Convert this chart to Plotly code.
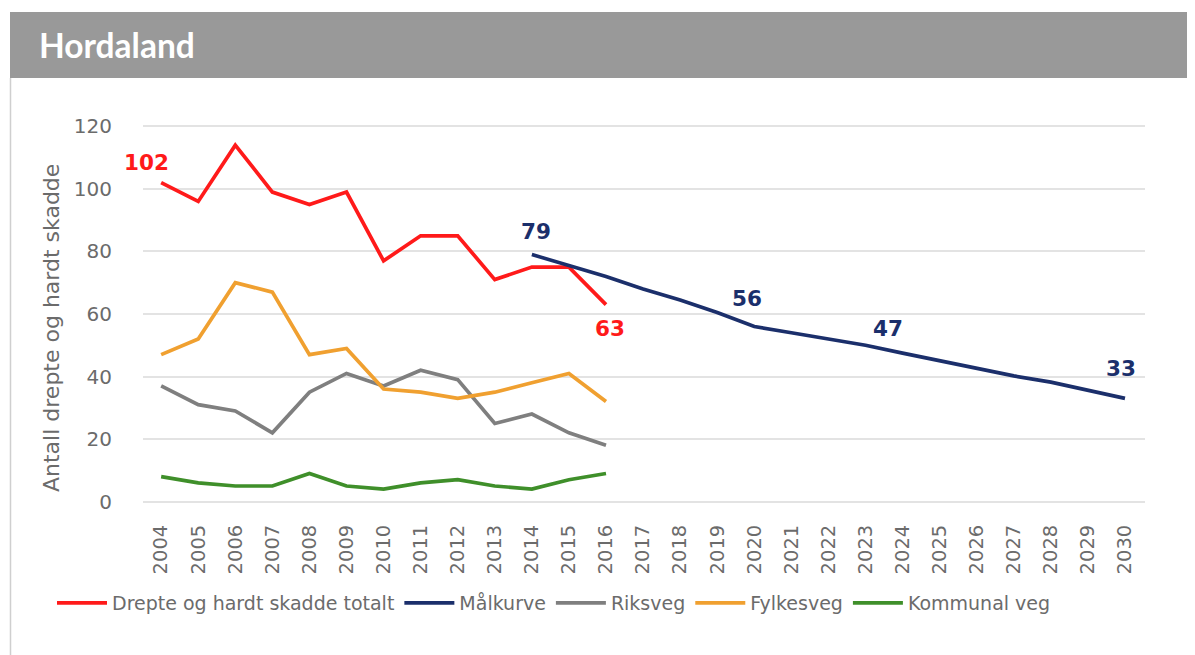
import plotly.graph_objects as go

years_hist = list(range(2004, 2017))
years_goal = list(range(2014, 2031))
all_years = list(range(2004, 2031))

totalt = [102, 96, 114, 99, 95, 99, 77, 85, 85, 71, 75, 75, 63]
malkurve = [79, 75.5, 72, 68, 64.5, 60.5, 56, 54, 52, 50, 47.5, 45, 42.5, 40.2, 38.2, 35.7, 33]
riksveg = [37, 31, 29, 22, 35, 41, 37, 42, 39, 25, 28, 22, 18]
fylkesveg = [47, 52, 70, 67, 47, 49, 36, 35, 33, 35, 38, 41, 32]
kommunal = [8, 6, 5, 5, 9, 5, 4, 6, 7, 5, 4, 7, 9]

names = ["Drepte og hardt skadde totalt", "Målkurve", "Riksveg", "Fylkesveg", "Kommunal veg"]
colors = ["#ff1a1a", "#1b2f6b", "#7f7f7f", "#f0a030", "#3f8f2a"]

# value labels: (x, y, text, color)
labels = [
    (2003.6, 108.5, "102", colors[0]),
    (2016.1, 55.5, "63", colors[0]),
    (2014.1, 86.5, "79", colors[1]),
    (2019.8, 65, "56", colors[1]),
    (2023.6, 55.5, "47", colors[1]),
    (2029.9, 42.5, "33", colors[1]),
]

# page offset (browser body margin) and geometry in reference pixels
OFF = 8
W, H = 1195 - OFF, 655 - OFF
L, R, T, B = 143 - OFF, 58 - OFF, 117 - OFF, 144
pw, ph = W - L - R, H - T - B

def px_x(p):
    return (p - OFF - L) / pw

def px_y(p):
    return (H - B - (p - OFF)) / ph

FONT = "DejaVu Sans"
GREY = "#6b6b6b"

fig = go.Figure()
series = [
    (years_hist, totalt),
    (years_goal, malkurve),
    (years_hist, riksveg),
    (years_hist, fylkesveg),
    (years_hist, kommunal),
]
for (xs, ys), n, c in zip(series, names, colors):
    fig.add_trace(go.Scatter(x=xs, y=ys, name=n, mode="lines",
                             line=dict(color=c, width=3.7, shape="linear")))

for x, y, t, c in labels:
    fig.add_annotation(x=x, y=y, text=f"<b>{t}</b>", showarrow=False,
                       font=dict(family=FONT, size=21.5, color=c))

# header bar
fig.add_shape(type="rect", xref="paper", yref="paper",
              x0=px_x(10), x1=px_x(1200), y0=px_y(78), y1=px_y(12),
              fillcolor="#999999", line=dict(width=0), layer="below")
fig.add_shape(type="line", xref="paper", yref="paper",
              x0=px_x(10.5), x1=px_x(10.5), y0=px_y(660), y1=px_y(78),
              line=dict(color="#cfcfcf", width=1.5))
fig.add_annotation(xref="paper", yref="paper", x=px_x(37), y=px_y(45),
                   xanchor="left", yanchor="middle", showarrow=False,
                   text="<b>Hordaland</b>",
                   font=dict(family="Lato", size=33.5, color="white"))

# y axis title
fig.add_annotation(xref="paper", yref="paper", x=px_x(51), y=px_y(328),
                   xanchor="center", yanchor="middle", showarrow=False, textangle=-90,
                   text="Antall drepte og hardt skadde",
                   font=dict(family=FONT, size=22, color=GREY))

fig.update_layout(
    width=W, height=H,
    margin=dict(l=L, r=R, t=T, b=B),
    paper_bgcolor="white", plot_bgcolor="white",
    showlegend=True,
    legend=dict(orientation="h", x=px_x(52), y=px_y(603), xanchor="left", yanchor="middle",
                font=dict(family=FONT, size=19, color=GREY),
                itemwidth=50, tracegroupgap=0, traceorder="normal"),
    font=dict(family=FONT, color=GREY),
)
fig.update_xaxes(range=[2003.51, 2030.54], tickmode="array", tickvals=all_years,
                 ticktext=[str(y) for y in all_years], tickangle=-90,
                 showgrid=False, zeroline=False, showline=False,
                 tickfont=dict(family=FONT, size=19.5, color=GREY),
                 ticks="outside", ticklen=5, tickcolor="rgba(0,0,0,0)")
fig.update_yaxes(range=[-3, 123], tickvals=[0, 20, 40, 60, 80, 100, 120],
                 showgrid=True, gridcolor="#e3e3e3", gridwidth=1.5,
                 zeroline=False, showline=False,
                 tickfont=dict(family=FONT, size=20, color=GREY),
                 ticks="outside", ticklen=26, tickcolor="rgba(0,0,0,0)")

fig.write_html("out.html")
